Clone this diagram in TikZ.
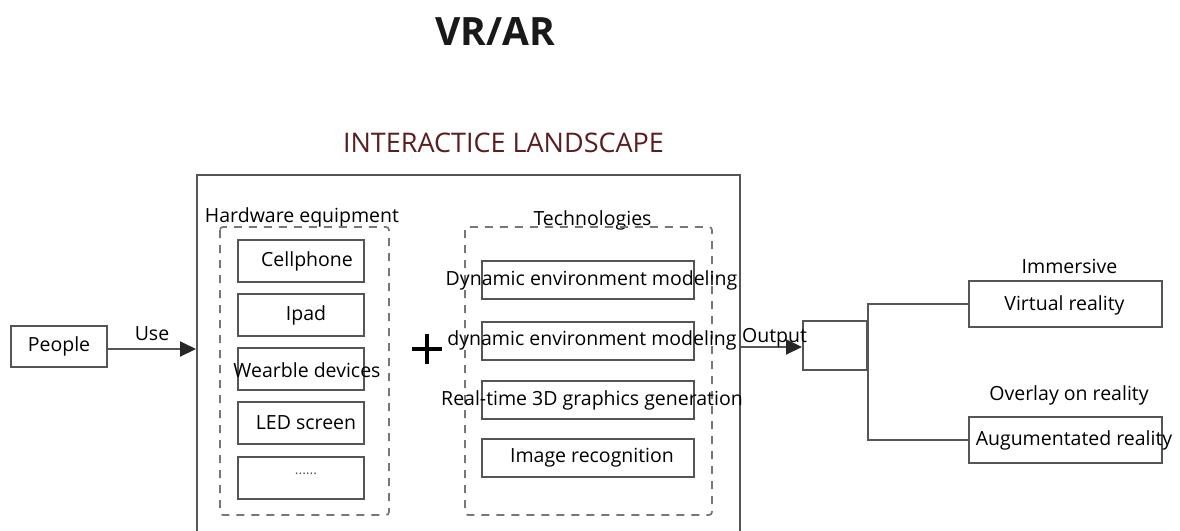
\documentclass[tikz,border=0pt]{standalone}
\usepackage{fontspec}
\setmainfont{Open Sans}
\usetikzlibrary{arrows.meta}
\definecolor{lc}{HTML}{555555}
\definecolor{dc}{HTML}{777777}
\definecolor{maroon}{HTML}{5B1D1D}
\begin{document}
\begin{tikzpicture}[x=1pt,y=-1pt,
  box/.style={draw=lc, line width=2pt, inner sep=0pt, rectangle},
  dbox/.style={draw=dc, line width=1.7pt, dash pattern=on 8pt off 7pt, rounded corners=3pt},
  txt/.style={inner sep=0pt, font=\fontsize{19.5}{22}\selectfont, text=black},
  btxt/.style={txt, anchor=base},
  conn/.style={draw=lc, line width=2pt},
  arr/.style={conn, -{Triangle[length=16pt,width=15pt,fill=black!85,color=black!85]}}
]
\useasboundingbox (0,0) rectangle (1180,530);

% titles
\node[inner sep=0pt, font=\fontsize{39}{44}\selectfont\bfseries, text=black!90] (title) at (495.5,32) {VR/AR};
\node[inner sep=0pt, font=\fontsize{27}{30}\selectfont, text=maroon] (land) at (503.5,143) {INTERACTICE LANDSCAPE};

% outer box
\node[box, minimum width=543pt, minimum height=365pt] (outer) at (468.5,357.5) {};

% people
\node[box, minimum width=96pt, minimum height=41pt] (people) at (59,346.5) {};
\node[txt] (peoplet) at (59,346.5) {People};

% hardware
\node[btxt] (hwl) at (302,222) {Hardware equipment};
\draw[dbox] (220,227) rectangle (389,515);
\node[box, minimum width=126pt, minimum height=42pt] (h1) at (301,260.5) {};
\node[box, minimum width=126pt, minimum height=42pt] (h2) at (301,315) {};
\node[box, minimum width=126pt, minimum height=42pt] (h3) at (301,369) {};
\node[box, minimum width=126pt, minimum height=42pt] (h4) at (301,423) {};
\node[box, minimum width=126pt, minimum height=42pt] (h5) at (301,477.5) {};
\node[txt] (h1t) at (307,261) {Cellphone};
\node[txt] (h2t) at (306,315) {Ipad};
\node[txt] (h3t) at (307,370) {Wearble devices};
\node[txt] (h4t) at (306,423) {LED screen};
\node[txt, text=lc] (h5t) at (306,474) {\fontsize{14}{14}\selectfont ......};

% plus
\node[inner sep=0pt, minimum size=30pt] (plus) at (427,349) {};
\draw[line width=3.5pt] (plus.west) -- (plus.east) (plus.north) -- (plus.south);

% technologies
\node[btxt] (tecl) at (592.5,225) {Technologies};
\draw[dbox] (465,227) rectangle (712,515);
\node[box, minimum width=212pt, minimum height=38pt] (t1) at (588,280) {};
\node[box, minimum width=212pt, minimum height=38pt] (t2) at (588,341) {};
\node[box, minimum width=212pt, minimum height=38pt] (t3) at (588,400) {};
\node[box, minimum width=212pt, minimum height=38pt] (t4) at (588,458) {};
\node[txt] (t1t) at (591.5,280) {Dynamic environment modeling};
\node[txt] (t2t) at (592,340) {dynamic environment modeling};
\node[txt] (t3t) at (592,400) {Real-time 3D graphics generation};
\node[txt] (t4t) at (592,458) {Image recognition};

% output side
\node[box, minimum width=64pt, minimum height=49pt] (outbox) at (835,345.5) {};
\node[box, minimum width=193pt, minimum height=46pt] (vr) at (1065.5,304) {};
\node[box, minimum width=193pt, minimum height=46pt] (ar) at (1065.5,440) {};
\node[txt] (vrt) at (1064.5,305) {Virtual reality};
\node[txt] (art) at (1074,440) {Augumentated reality};
\node[btxt] (imm) at (1069.5,273) {Immersive};
\node[btxt] (ovl) at (1069,400) {Overlay on reality};

% connectors
\coordinate (pin) at (people.east |- 0,349);
\draw[arr] (pin) -- (pin -| outer.west) node[midway, above=7pt, txt] (use) {Use};
\coordinate (oin) at (outer.east |- 0,347);
\draw[arr] (oin) -- (oin -| outbox.west);
\node[btxt] (outl) at (774.5,342) {Output};
\draw[conn] (vr.west) -- (vr.west -| outbox.east) -- (ar.west -| outbox.east) -- (ar.west);
\end{tikzpicture}
\end{document}
